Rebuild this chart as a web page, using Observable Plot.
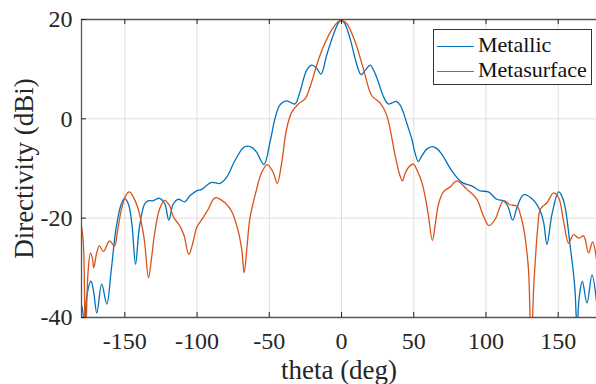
<!DOCTYPE html>
<html>
<head>
<meta charset="utf-8">
<script src="https://cdn.jsdelivr.net/npm/d3@7"></script>
<script src="https://cdn.jsdelivr.net/npm/@observablehq/plot@0.6"></script>
<style>
  body { margin: 0; background: white; }
  #wrap { position: relative; width: 596px; height: 384px; overflow: hidden; }
  #legend { position: absolute; left: 433px; top: 29px; width: 157px; height: 54px; border: 1.2px solid #333; background: white;
            font-family: 'Liberation Serif', 'Times New Roman', serif; font-size: 22px; color: #111; }
  .row { position: absolute; left: 3px; height: 24px; line-height: 24px; white-space: nowrap; }
  .sw { display: inline-block; width: 37px; height: 0; vertical-align: middle; margin-right: 4px; }
</style>
</head>
<body>
<div id="wrap"></div>
<script>
const seriesNames = ["Metallic", "Metasurface"];
const seriesColors = ["#0072BD", "#D95319"];
const xTicks = [-150, -100, -50, 0, 50, 100, 150];
const yTicks = [-40, -20, 0, 20];

const metallicTheta = [-180, -179, -178, -176.5, -173.4, -171.5, -169.4, -166, -162.5, -159.5, -156, -152.5, -150.2, -147.5, -145, -142.6, -140, -136.4, -134, -130.6, -126, -122.5, -119.5, -116.6, -113.1, -108.5, -105, -100.3, -96.9, -90, -84.2, -79.6, -73.8, -68, -65, -61.8, -58.8, -53.7, -49.5, -46.1, -42.6, -38, -32.2, -28.8, -24.1, -20.7, -17.5, -14.2, -10.3, -5.7, -2, 0, 2, 5.9, 10, 13.5, 16.5, 19.8, 22.5, 25.5, 29, 32.4, 35, 37.8, 40.5, 42.8, 45.5, 48.6, 51, 53.2, 55.5, 59, 62.9, 66, 69.4, 76.4, 83.3, 90.2, 96, 101.7, 107.5, 112.1, 115, 118.5, 121.4, 126, 132.9, 137.6, 140, 142.2, 145.7, 150.3, 153.7, 158.4, 161.5, 163, 164.5, 166.7, 169.9, 173.4, 176.5];
const metallicDbi = [-37.4, -39, -44, -36, -32.7, -35, -39.1, -33.3, -37.3, -30.7, -21.9, -17.2, -16.0, -17.2, -21.5, -29.3, -22, -17.2, -16.5, -16.5, -16.0, -17, -20.4, -17.2, -16.2, -16.7, -15.5, -14.5, -14.2, -12.8, -13.0, -11.8, -8.4, -5.8, -5.5, -5.8, -6.7, -9.2, -4.7, 0, 2.8, 3.6, 3.0, 5.4, 9.8, 10.8, 10.3, 9.0, 12.8, 16.9, 19.4, 19.8, 19.3, 16.2, 11.5, 8.9, 9.8, 10.8, 9.6, 7.4, 4.5, 3.0, 3.2, 3.5, 2.8, 1.3, -1.2, -4.0, -7, -8.6, -7.5, -6.1, -5.6, -6, -7.1, -10.5, -12.8, -13.5, -14.5, -14.7, -16.2, -16.5, -17.5, -20.4, -17.9, -15.3, -16.4, -18.6, -21, -25.3, -19.2, -14.7, -16.5, -25.9, -34, -42, -36, -32.7, -37.1, -31.4, -36.8];

const metaTheta = [-180, -179, -178.4, -177.2, -175.5, -173.8, -172.5, -171.5, -169.5, -167.6, -164.8, -160.6, -157.2, -155, -152.6, -149.5, -146.8, -144, -141, -138.5, -136.4, -133.6, -131.5, -129.5, -126, -122.5, -119, -116.6, -111.9, -109, -105.7, -102.5, -100.3, -95.8, -92.3, -87.7, -84, -80.7, -76.1, -71.5, -69, -67.4, -65.5, -63.4, -58.8, -55.3, -51.4, -47.3, -44.5, -41.4, -38, -34.5, -29.9, -25.3, -21.8, -17.2, -12.6, -6.8, -2.2, 0, 3.6, 9.4, 15.1, 20.9, 26.7, 31.3, 37.1, 40, 42.1, 44, 46.3, 49.8, 52.5, 55.6, 58, 60.2, 62.9, 65, 67.1, 70.5, 75.2, 79.8, 86.8, 93.7, 98.3, 102.2, 106.4, 112.1, 116.8, 121.6, 124, 126, 128, 129.5, 131.3, 133, 134.1, 135.8, 137.6, 142.2, 146.8, 150.3, 153.7, 157.2, 160.6, 164.1, 167.6, 171, 173.8, 176.5];
const metaDbi = [-21.6, -24, -27, -45, -31, -27, -28, -30, -27, -25.6, -26.7, -24.6, -25.6, -22.5, -18.6, -15.5, -14.7, -15.8, -17.9, -21, -24.6, -32, -28, -23.3, -18.2, -16.4, -17.5, -19.6, -21.6, -23.5, -27.3, -24.5, -21.9, -19.9, -18.2, -15.9, -16.2, -16.9, -18.6, -22.6, -26.5, -31, -26, -20, -14.2, -10.8, -9.2, -10.8, -13.0, -8.8, -2.0, 1.3, 3.0, 4.0, 6.4, 10.8, 14.5, 17.9, 19.6, 19.8, 19.2, 15.5, 10.1, 4.7, 3.2, 0.7, -7.4, -11, -12.5, -11, -9.8, -9.1, -10.5, -12.8, -15.8, -19.6, -24.5, -21, -17.2, -14.7, -13.7, -12.5, -14.2, -16.2, -19.6, -21.5, -20.2, -16.5, -17.3, -17.6, -19.5, -21.9, -26, -30.7, -46, -34, -28.7, -22, -18.2, -16.9, -14.9, -15.9, -20.6, -25.0, -23.3, -24.0, -23.6, -27.0, -24.8, -28.3];

const metallic = metallicTheta.map((t, i) => ({theta: t, dbi: metallicDbi[i]}));
const meta = metaTheta.map((t, i) => ({theta: t, dbi: metaDbi[i]}));

const W = 596, H = 384, mL = 81, mR = 0, mT = 19, mB = 67;
const fw = W - mL - mR, fh = H - mT - mB;
const axisColor = "#555";
const textColor = "#262626";
const fmt = d => String(d);

const chart = Plot.plot({
  width: W, height: H,
  marginLeft: mL, marginRight: mR, marginTop: mT, marginBottom: mB,
  x: {domain: [-180, 176.5]},
  y: {domain: [-40, 20]},
  style: {fontFamily: "'Liberation Serif', 'Times New Roman', serif", fontSize: "24px", color: textColor, background: "white"},
  marks: [
    Plot.gridX(xTicks, {stroke: "#dedede", strokeOpacity: 1, strokeWidth: 1}),
    Plot.gridY(yTicks, {stroke: "#dedede", strokeOpacity: 1, strokeWidth: 1}),
    Plot.line(metallic, {x: "theta", y: "dbi", stroke: seriesColors[0], strokeWidth: 1.3, curve: "catmull-rom", clip: true}),
    Plot.line(meta, {x: "theta", y: "dbi", stroke: seriesColors[1], strokeWidth: 1.3, curve: "catmull-rom", clip: true}),
    Plot.ruleY([yTicks[0], yTicks[yTicks.length - 1]], {stroke: axisColor, strokeWidth: 1.3}),
    Plot.ruleX([-180], {stroke: axisColor, strokeWidth: 1.3}),
    Plot.ruleX(xTicks, {stroke: "#222", insetTop: fh - 5}),
    Plot.ruleX(xTicks, {stroke: "#222", insetBottom: fh - 5}),
    Plot.ruleY(yTicks, {stroke: "#222", insetRight: fw - 5}),
    Plot.axisX(xTicks, {tickSize: 0, tickPadding: 14, label: null, fill: textColor, tickFormat: fmt, fontSize: 24}),
    Plot.axisY(yTicks, {tickSize: 0, tickPadding: 9, label: null, fill: textColor, tickFormat: fmt, fontSize: 24}),
    Plot.text(["theta (deg)"], {frameAnchor: "bottom", textAnchor: "middle", lineAnchor: "middle", dy: 52.5, fontSize: 27, fill: textColor}),
    Plot.text(["Directivity (dBi)"], {frameAnchor: "left", textAnchor: "middle", lineAnchor: "middle", rotate: -90, dx: -57.5, fontSize: 27, fill: textColor})
  ]
});

const wrap = document.getElementById("wrap");
wrap.appendChild(chart);
const legend = document.createElement("div");
legend.id = "legend";
seriesNames.forEach((name, i) => {
  const row = document.createElement("div");
  row.className = "row";
  row.style.top = (3 + i * 25) + "px";
  const sw = document.createElement("span");
  sw.className = "sw";
  sw.style.borderTop = "1.3px solid " + seriesColors[i];
  row.appendChild(sw);
  row.appendChild(document.createTextNode(name));
  legend.appendChild(row);
});
wrap.appendChild(legend);
</script>
</body>
</html>
